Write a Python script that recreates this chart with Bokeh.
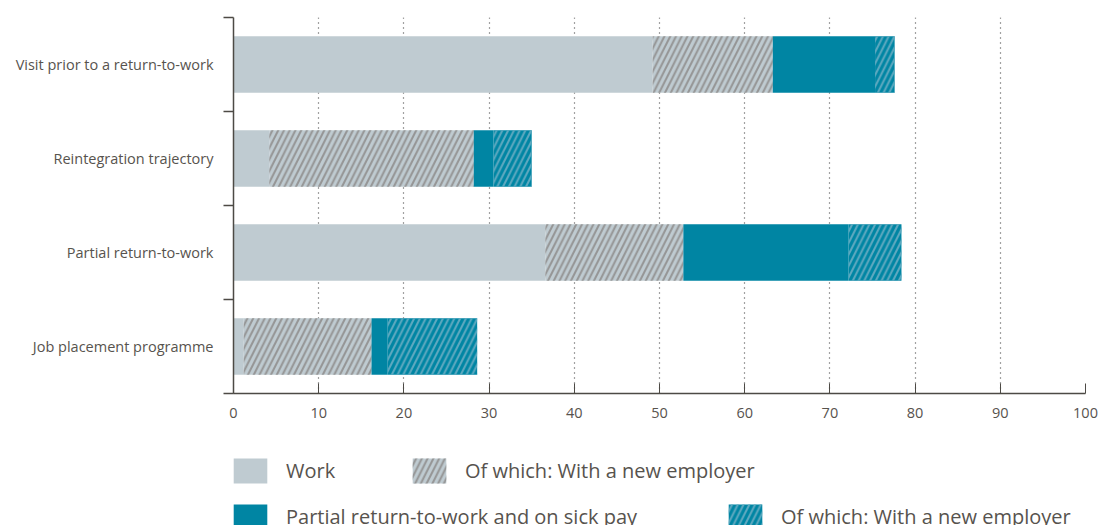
import numpy as np
from bokeh.plotting import figure
from bokeh.layouts import column
from bokeh.models import ColumnDataSource, Range1d, FixedTicker, Legend, LegendItem
from bokeh.embed import file_html
from bokeh.resources import INLINE

categories = ["Visit prior to a return-to-work", "Reintegration trajectory",
              "Partial return-to-work", "Job placement programme"]
work = [49.2, 4.2, 36.6, 1.2]
work_new = [14.1, 24.0, 16.2, 15.0]
partial = [12.0, 2.3, 19.4, 1.9]
partial_new = [2.3, 4.5, 6.2, 10.5]
series_labels = ["Work", "Of which: With a new employer",
                 "Partial return-to-work and on sick pay", "Of which: With a new employer"]
x_ticks = list(range(0, 101, 10))

GREY = "#bfcbd1"
TEAL = "#0085a3"
TXT = "#57534e"
AX = "#4d4a45"
FONT = "Open Sans"

n = len(categories)
ypos = [n - i - 0.5 for i in range(n)]
segs = np.array([work, work_new, partial, partial_new])
right = np.cumsum(segs, axis=0)
left = right - segs

styles = [
    dict(fill_color=GREY),
    dict(fill_color=GREY, hatch_pattern="/", hatch_color="#959595", hatch_scale=11.5, hatch_weight=2),
    dict(fill_color=TEAL),
    dict(fill_color=TEAL, hatch_pattern="/", hatch_color="#5fa9c0", hatch_scale=11.5, hatch_weight=2),
]
sources = [ColumnDataSource(dict(y=ypos, left=left[k], right=right[k])) for k in range(4)]

p = figure(width=1099, height=432, output_backend="svg", toolbar_location=None,
           x_range=Range1d(0, 100), y_range=Range1d(0, n),
           min_border_left=233, min_border_right=14, min_border_top=17, min_border_bottom=39)
p.outline_line_color = None

for k in range(4):
    p.hbar(y="y", left="left", right="right", height=0.6, source=sources[k],
           line_color=None, **styles[k])

# x axis
xa = p.xaxis[0]
xa.ticker = FixedTicker(ticks=x_ticks, minor_ticks=[])
xa.axis_line_color = AX
xa.axis_line_width = 1.5
xa.major_tick_line_color = AX
xa.major_tick_in = 10
xa.major_tick_out = 0
xa.minor_tick_line_color = None
xa.major_label_standoff = 14
xa.major_label_text_font = FONT
xa.major_label_text_font_size = "14.5px"
xa.major_label_text_color = TXT

# y axis
ya = p.yaxis[0]
ya.ticker = FixedTicker(ticks=ypos, minor_ticks=list(range(0, n + 1)))
ya.major_label_overrides = {float(y): c for y, c in zip(ypos, categories)}
ya.axis_line_color = AX
ya.axis_line_width = 1.5
ya.major_tick_line_color = None
ya.major_tick_in = 0
ya.major_tick_out = 0
ya.minor_tick_line_color = AX
ya.minor_tick_line_width = 1.5
ya.minor_tick_in = 0
ya.minor_tick_out = 10
ya.major_label_standoff = 10
ya.major_label_text_font = FONT
ya.major_label_text_font_size = "14.5px"
ya.major_label_text_color = TXT

p.ygrid.grid_line_color = None
p.xgrid.ticker = FixedTicker(ticks=x_ticks[1:])
p.xgrid.grid_line_color = "#444444"
p.xgrid.grid_line_dash = "1 4"
p.xgrid.grid_line_width = 1.2

# legend figure (same series, drawn outside its visible range so only the legend shows)
q = figure(width=1099, height=93, output_backend="svg", toolbar_location=None,
           x_range=Range1d(0, 100), y_range=Range1d(100, 101),
           x_axis_location=None, y_axis_location=None,
           min_border_left=0, min_border_right=0, min_border_top=0, min_border_bottom=0)
q.outline_line_color = None
q.grid.grid_line_color = None
lr = []
for k in range(4):
    lr.append(q.hbar(y="y", left="left", right="right", height=0.6, source=sources[k],
                     line_color=None, **styles[k]))

def make_legend(items, loc, label_width):
    return Legend(items=items, location=loc, orientation="horizontal",
                  glyph_width=42, glyph_height=31, label_height=31, label_standoff=15,
                  label_width=label_width, spacing=0, padding=0, margin=0,
                  border_line_color=None, background_fill_alpha=0,
                  label_text_font=FONT, label_text_font_size="20px", label_text_color=TXT)

lg1 = make_legend([LegendItem(label=series_labels[0], renderers=[lr[0]]),
                   LegendItem(label=series_labels[1], renderers=[lr[1]])], (-4, 39), 122)
lg2 = make_legend([LegendItem(label=series_labels[2], renderers=[lr[2]]),
                   LegendItem(label=series_labels[3], renderers=[lr[3]])], (-4, -7), 438)
q.add_layout(lg1, "center")
q.add_layout(lg2, "center")

layout = column(p, q, spacing=0)
open("out.html", "w").write(file_html(layout, INLINE))
